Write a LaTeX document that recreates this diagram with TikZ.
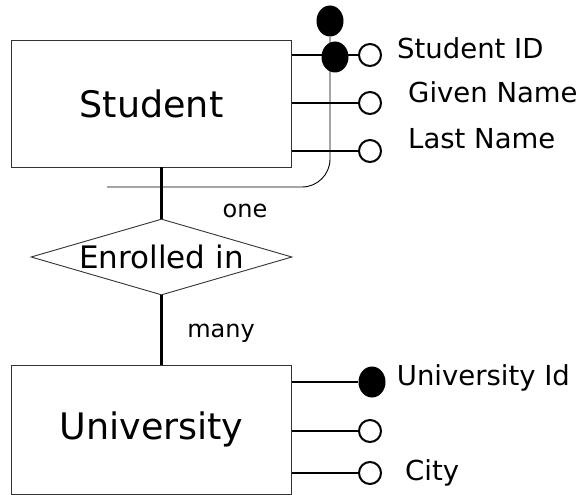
\documentclass[tikz,border=0pt]{standalone}
\usepackage{fontspec}
\setmainfont{DejaVu Sans}
\usetikzlibrary{positioning,shapes.geometric}

\begin{document}
\begin{tikzpicture}[
    x=1pt, y=-1pt,
    every node/.style={font=\fontsize{27.5}{30}\selectfont},
    entity/.style={draw=black!80, line width=0.9pt, minimum width=280pt, minimum height=127pt, font=\fontsize{36.5}{40}\selectfont},
    rel/.style={draw=black!80, diamond, line width=0.9pt, minimum width=261pt, minimum height=76pt, inner sep=0pt, font=\fontsize{31}{34}\selectfont},
    opt/.style={draw, circle, line width=2pt, minimum size=22pt, inner sep=0pt},
    key/.style={fill, ellipse, minimum width=27pt, minimum height=31pt, inner sep=0pt},
    attr/.style={inner sep=0pt, text height=0.72em, text depth=0pt},
    card/.style={font=\fontsize{24}{28}\selectfont},
    link/.style={line width=2.4pt}
]
\useasboundingbox (0,0) rectangle (582,495);

% entities and relationship
\node[entity] (student) at (151.5,103.5) {Student};
\node[rel] (enrolled) at (161.5,257) {\makebox[0pt]{Enrolled in}};
\node[entity, minimum height=129pt] (university) at (151.5,429.5) {University};

% student attributes
\node[opt] (sid) at (370,55) {};
\node[opt] (given) at (370,103) {};
\node[opt] (last) at (370,151) {};
\node[key] (sidkey) at (335,57) {};
\node[key] (topkey) at (330,21) {};
\node[attr, right=15pt of sid] (sidlbl) {Student ID};
\node[attr, right=26pt of given, yshift=4pt] (givenlbl) {Given Name};
\node[attr, right=26pt of last, yshift=6pt] (lastlbl) {Last Name};

% university attributes
\node[key] (uid) at (372,382) {};
\node[opt] (uname) at (370,431) {};
\node[opt] (city) at (370,473) {};
\node[attr, right=11pt of uid] (uidlbl) {University Id};
\node[attr, right=23pt of city, yshift=-4pt] (citylbl) {City};

% cardinalities
\node[card] (one) at (245,211) {one};
\node[card] (many) at (221,333) {many};

\draw[link] (student.east |- sid) -- (sid);
\draw[link] (student.east |- given) -- (given);
\draw[link] (student.east |- last) -- (last);
\draw[link] (university.east |- uid) -- (uid);
\draw[link] (university.east |- uname) -- (uname);
\draw[link] (university.east |- city) -- (city);

\draw[link] (student.south -| enrolled.north) -- (enrolled.north);
\draw[link] (enrolled.south) -- (enrolled.south |- university.north);

% key bracket
\coordinate (keyend) at (107,187);
\draw[line width=0.9pt, rounded corners=28pt] (topkey) |- (keyend);
\end{tikzpicture}
\end{document}
